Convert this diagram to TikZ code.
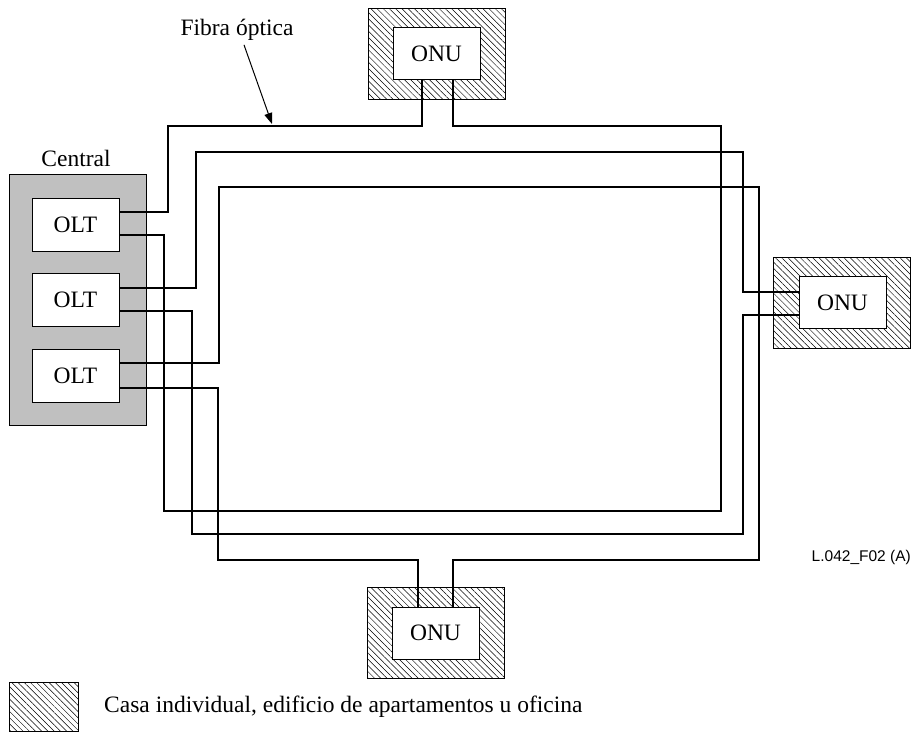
\documentclass[tikz,border=0pt]{standalone}
\usepackage{fontspec}
\setmainfont{Liberation Serif}
\newfontfamily\labelsans{Liberation Sans}
\usetikzlibrary{patterns.meta,arrows.meta}
\definecolor{centralgray}{RGB}{192,192,192}
\begin{document}
\begin{tikzpicture}[x=1pt,y=-1pt,
  box/.style={draw=black,line width=1pt,fill=white,inner sep=0pt,outer sep=0pt,font=\fontsize{23.5}{26}\selectfont},
  oltbox/.style={box,minimum width=87pt,minimum height=53pt},
  onubox/.style={box,minimum width=87pt,minimum height=52pt},
  house/.style={draw=black,line width=1pt,inner sep=0pt,outer sep=0pt,minimum width=137pt,minimum height=91pt,pattern={Lines[angle=-45,distance=4.4pt,line width=0.5pt]}},
  fiber/.style={draw=black,line width=1.4pt},
  lbl/.style={font=\fontsize{23.5}{26}\selectfont,inner sep=0pt}
]
\useasboundingbox (0,0) rectangle (916,733);
% central office
\node[draw=black,line width=1pt,fill=centralgray,minimum width=137pt,minimum height=250pt,inner sep=0pt,outer sep=0pt] (central) at (77.5,300) {};
\node[lbl] (centrallbl) at (76,158) {Central};
\node[oltbox] (olt1) at (75.5,224.5) {OLT};
\node[oltbox] (olt2) at (75.5,300) {OLT};
\node[oltbox] (olt3) at (75.5,376) {OLT};
% premises
\node[house] (houseT) at (437,54) {};
\node[house] (houseR) at (841.5,303) {};
\node[house] (houseB) at (436,633) {};
\node[onubox] (onuT) at (436.5,54) {ONU};
\node[onubox] (onuR) at (842.5,302.5) {ONU};
\node[onubox] (onuB) at (435.5,633) {ONU};
% fibres
\draw[fiber] ([yshift=12.5pt]olt1.east) -| (168,126) -| ([xshift=-14.5pt]onuT.south);
\draw[fiber] ([yshift=-10.5pt]olt1.east) -| (164,511) -| (721,126) -| ([xshift=16.5pt]onuT.south);
\draw[fiber] ([yshift=12pt]olt2.east) -| (196,152) -| (743,292) -- ([yshift=10.5pt]onuR.west);
\draw[fiber] ([yshift=-11pt]olt2.east) -| (192,534) -| (743,315) -- ([yshift=-12.5pt]onuR.west);
\draw[fiber] ([yshift=13pt]olt3.east) -| (219,187) -| (759,560) -| ([xshift=17.5pt]onuB.north);
\draw[fiber] ([yshift=-12pt]olt3.east) -| (218,560) -| ([xshift=-17.5pt]onuB.north);
% label fibra
\node[lbl] (fiblbl) at (237,30) {Fibra óptica};
\coordinate (fibtip) at (272,124);
\draw[-{Triangle[length=11pt,width=8pt]},line width=1pt] ([xshift=7pt,yshift=-4pt]fiblbl.south) -- (fibtip);
% legend
\node[house,minimum width=69pt,minimum height=49pt] (legbox) at (43.5,706.5) {};
\node[lbl,anchor=west] (legtxt) at (104,707) {Casa individual, edificio de apartamentos u oficina};
\node[font=\labelsans\fontsize{15.5}{18}\selectfont,anchor=east,inner sep=0pt] (figid) at (911,557) {L.042\_F02 (A)};
\end{tikzpicture}
\end{document}
